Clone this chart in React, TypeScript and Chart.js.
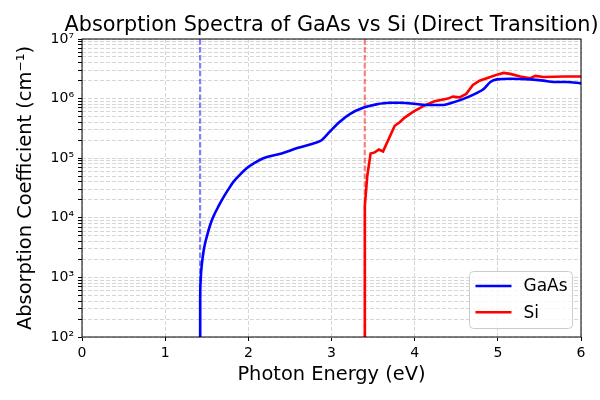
import React, { useEffect, useRef } from 'react';
import { Chart, registerables } from 'chart.js';

Chart.register(...registerables);

// band gaps (eV)
const gaasGap = 1.42;
const siGap = 3.4;

// GaAs absorption (cm^-1) vs photon energy (eV)
const gaasEnergy = [
  1.42, 1.421, 1.425, 1.43, 1.44, 1.45, 1.47, 1.5, 1.54, 1.58, 1.64, 1.7,
  1.76, 1.82, 1.9, 1.98, 2.08, 2.18, 2.4, 2.6, 2.8, 2.88, 2.98, 3.1, 3.22,
  3.38, 3.54, 3.7, 3.84, 4.02, 4.18, 4.34, 4.42, 4.58, 4.75, 4.83, 4.91,
  4.99, 5.15, 5.39, 5.55, 5.67, 5.83, 6.0,
];
const gaasAlpha = [
  1, 4e2, 8e2, 1.1e3, 1.6e3, 2.1e3, 3.2e3, 4.8e3, 7.5e3, 1.05e4, 1.55e4,
  2.2e4, 3e4, 4e4, 5.3e4, 6.8e4, 8.4e4, 1e5, 1.2e5, 1.5e5, 1.8e5, 2e5,
  2.8e5, 4.1e5, 5.5e5, 7e5, 8e5, 8.5e5, 8.5e5, 8.1e5, 7.8e5, 7.8e5, 8.3e5,
  9.8e5, 1.25e6, 1.45e6, 1.9e6, 2.1e6, 2.15e6, 2.1e6, 2e6, 1.9e6, 1.9e6,
  1.8e6,
];

// Si absorption (cm^-1) vs photon energy (eV)
const siEnergy = [
  3.4, 3.401, 3.43, 3.47, 3.52, 3.57, 3.62, 3.76, 3.82, 3.88, 3.98, 4.12,
  4.24, 4.4, 4.46, 4.54, 4.62, 4.7, 4.78, 4.91, 5.0, 5.07, 5.15, 5.27, 5.39,
  5.45, 5.55, 5.8, 6.0,
];
const siAlpha = [
  1, 1.6e4, 5e4, 1.2e5, 1.25e5, 1.4e5, 1.3e5, 3.5e5, 4e5, 4.8e5, 6e5, 7.7e5,
  9e5, 1e6, 1.08e6, 1.05e6, 1.2e6, 1.7e6, 2e6, 2.3e6, 2.55e6, 2.7e6, 2.6e6,
  2.35e6, 2.2e6, 2.4e6, 2.3e6, 2.35e6, 2.35e6,
];

const xTicks = [0, 1, 2, 3, 4, 5, 6];
const yMajorTicks = [1e2, 1e3, 1e4, 1e5, 1e6, 1e7];
const yTickLabels = ['10²', '10³', '10⁴', '10⁵', '10⁶', '10⁷'];

const FONT = "'DejaVu Sans', sans-serif";

const toPoints = (xs: number[], ys: number[]) => xs.map((x, i) => ({ x, y: ys[i] }));

// title, frame and an inside legend like matplotlib
const decorPlugin = {
  id: 'decor',
  afterDraw(chart: any) {
    const { ctx, chartArea } = chart;
    const { left, right, top, bottom } = chartArea;
    ctx.save();

    ctx.strokeStyle = '#000';
    ctx.lineWidth = 1;
    ctx.strokeRect(left, top, right - left, bottom - top);

    ctx.fillStyle = '#000';
    ctx.font = `20.8px ${FONT}`;
    ctx.textAlign = 'center';
    ctx.textBaseline = 'alphabetic';
    ctx.fillText('Absorption Spectra of GaAs vs Si (Direct Transition)', (left + right) / 2, 31);

    // legend box
    const bw = 103;
    const bh = 57;
    const bx = right - 8.5 - bw;
    const by = bottom - 8.5 - bh;
    ctx.beginPath();
    ctx.roundRect(bx, by, bw, bh, 4);
    ctx.fillStyle = 'rgba(255,255,255,0.8)';
    ctx.fill();
    ctx.strokeStyle = '#cccccc';
    ctx.stroke();

    const items = chart.data.datasets.filter((d: any) => !d.hideInLegend);
    items.forEach((d: any, i: number) => {
      const y = by + 14.5 + i * 26.3;
      ctx.beginPath();
      ctx.moveTo(bx + 6, y);
      ctx.lineTo(bx + 42, y);
      ctx.strokeStyle = d.borderColor;
      ctx.lineWidth = 2.5;
      ctx.stroke();
      ctx.fillStyle = '#000';
      ctx.font = `17px ${FONT}`;
      ctx.textAlign = 'left';
      ctx.textBaseline = 'middle';
      ctx.fillText(d.label, bx + 54, y + 1);
    });
    ctx.restore();
  },
};

const App: React.FC = () => {
  const chartRef = useRef<HTMLCanvasElement>(null);
  const chartInstance = useRef<Chart | null>(null);

  useEffect(() => {
    if (!chartRef.current) return;
    if (chartInstance.current) chartInstance.current.destroy();

    const gapLine = (x: number, color: string) => ({
      label: '',
      hideInLegend: true,
      data: [{ x, y: 1e2 }, { x, y: 1e7 }],
      borderColor: color,
      borderWidth: 2.2,
      borderDash: [5.5, 2.4],
      pointRadius: 0,
      fill: false,
    });

    const gridColor = '#d6d6d6';

    chartInstance.current = new Chart(chartRef.current, {
      type: 'line',
      data: {
        datasets: [
          {
            label: 'GaAs',
            data: toPoints(gaasEnergy, gaasAlpha),
            borderColor: '#0000ff',
            borderWidth: 2.6,
            pointRadius: 0,
            cubicInterpolationMode: 'monotone',
          },
          {
            label: 'Si',
            data: toPoints(siEnergy, siAlpha),
            borderColor: '#ff0000',
            borderWidth: 2.6,
            pointRadius: 0,
            tension: 0,
          },
          gapLine(gaasGap, 'rgba(0,0,255,0.5)'),
          gapLine(siGap, 'rgba(255,0,0,0.5)'),
        ] as any,
      },
      options: {
        responsive: false,
        animation: false,
        layout: { padding: { left: 0, right: 19, top: 39, bottom: 0 } },
        plugins: {
          legend: { display: false },
          tooltip: { enabled: false },
          title: { display: false },
        },
        scales: {
          x: {
            type: 'linear',
            min: 0,
            max: 6,
            afterFit: (s: any) => { s.height = 63; },
            afterBuildTicks: (s: any) => { s.ticks = xTicks.map((v) => ({ value: v })); },
            ticks: {
              color: '#000',
              font: { family: FONT, size: 14 },
              padding: 4,
              autoSkip: false,
              maxRotation: 0,
            },
            grid: { color: gridColor, tickColor: '#000', tickLength: 4, lineWidth: 1 },
            border: { display: false, dash: [4, 2] },
            title: {
              display: true,
              text: 'Photon Energy (eV)',
              color: '#000',
              font: { family: FONT, size: 19.4, lineHeight: 1.2 },
              padding: { top: 0, bottom: 13 },
            },
          },
          y: {
            type: 'logarithmic',
            min: 1e2,
            max: 1e7,
            afterFit: (s: any) => { s.width = 82; },
            afterBuildTicks: (s: any) => {
              const t: { value: number }[] = [];
              yMajorTicks.forEach((m, i) => {
                if (i === yMajorTicks.length - 1) { t.push({ value: m }); return; }
                for (let k = 1; k <= 9; k++) t.push({ value: m * k });
              });
              s.ticks = t;
            },
            ticks: {
              color: '#000',
              font: { family: FONT, size: 14 },
              padding: 4,
              autoSkip: false,
              callback: (v: any) => {
                const i = yMajorTicks.findIndex((m) => Math.abs(m - Number(v)) / m < 1e-6);
                return i >= 0 ? yTickLabels[i] : '';
              },
            },
            grid: { color: gridColor, tickColor: '#000', tickLength: 4, lineWidth: 1 },
            border: { display: false, dash: [4, 2] },
            title: {
              display: true,
              text: 'Absorption Coefficient (cm⁻¹)',
              color: '#000',
              font: { family: FONT, size: 19.4, lineHeight: 1.2 },
              padding: { top: 14.5, bottom: 0 },
            },
          },
        },
      },
      plugins: [decorPlugin],
    } as any);

    return () => {
      if (chartInstance.current) {
        chartInstance.current.destroy();
        chartInstance.current = null;
      }
    };
  }, []);

  return (
    <div style={{ position: 'fixed', left: 0, top: 0, width: 600, height: 400, background: '#fff' }}>
      <canvas ref={chartRef} width={600} height={400} />
    </div>
  );
};

export default App;
